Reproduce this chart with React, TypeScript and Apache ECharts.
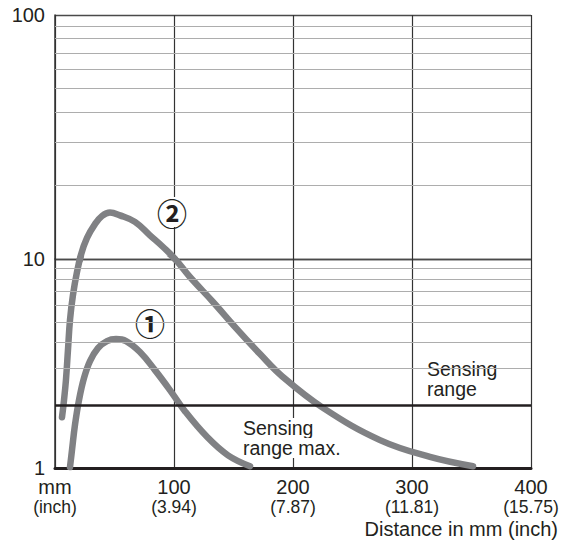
import React, { useEffect, useRef } from 'react';
import * as echarts from 'echarts';

// ---- data ----
const xTicks = [0, 100, 200, 300, 400];
const mmLabels = ['mm', '100', '200', '300', '400'];
const inchLabels = ['(inch)', '(3.94)', '(7.87)', '(11.81)', '(15.75)'];
const yTickLabels = ['1', '10', '100'];
const minorUpper = [20, 30, 40, 50, 60, 70, 80, 90];
const minorLower = [3, 4, 5, 6, 7, 8, 9];
const sensingLimit = 2;

const curve1X = [12.6, 14.3, 16.8, 20.2, 24.4, 29.4, 36.1, 43.7, 51.3, 59.7, 71.4, 84, 96.6, 109.2, 127.7, 145.4, 163.9];
const curve1Y = [1.01, 1.22, 1.61, 2.12, 2.7, 3.25, 3.75, 4.05, 4.14, 4.05, 3.59, 2.94, 2.36, 1.87, 1.41, 1.15, 1.02];

const curve2X = [5.9, 7.6, 9.2, 10.9, 12.6, 15.1, 18.5, 21.8, 26.9, 33.6, 39.5, 46.2, 54.6, 67.2, 79.8, 90.8, 100.8, 113.4, 132.8, 152.9, 172.3, 190.8, 225.2, 273.1, 315.1, 351.3];
const curve2Y = [1.75, 2.12, 2.64, 3.67, 5.11, 6.73, 8.67, 10.4, 12.2, 13.9, 15.0, 15.5, 15.1, 14.2, 12.5, 11.2, 10, 8.2, 6.23, 4.62, 3.51, 2.75, 1.94, 1.36, 1.13, 1.02];

const curveLabels = ['①', '②'];
const xAxisTitle = 'Distance in mm (inch)';
const sensingRangeLines = ['Sensing', 'range'];
const sensingMaxLines = ['Sensing', 'range max.'];

export default function App() {
  const ref = useRef<HTMLDivElement>(null);
  useEffect(() => {
    const chart = echarts.init(ref.current!, null, { renderer: 'svg' });
    const font = 'Liberation Sans';
    const textColor = '#231f20';
    const curveColor = '#808184';
    const pairs = (xs: number[], ys: number[]) => xs.map((x, i) => [x, ys[i]]);
    const c1 = pairs(curve1X, curve1Y);
    const c2 = pairs(curve2X, curve2Y);

    const xBase = (g: number) => ({
      type: 'value',
      gridIndex: g,
      min: 0,
      max: 400,
      interval: 100,
      axisTick: { show: false },
      splitLine: { show: true, lineStyle: { color: '#333333', width: 1.2 } },
    });

    const curveSeries = (g: number, data: number[][]) => ({
      type: 'line',
      xAxisIndex: g,
      yAxisIndex: g,
      data,
      smooth: 0.4,
      symbol: 'none',
      showSymbol: false,
      silent: true,
      z: 3,
      clip: true,
      lineStyle: { color: curveColor, width: 6.5, cap: 'round', join: 'round' },
    });

    const minorSeries = (g: number, vals: number[], extra: any[] = []) => ({
      type: 'line',
      xAxisIndex: g,
      yAxisIndex: g,
      data: [],
      silent: true,
      z: 1,
      markLine: {
        silent: true,
        symbol: 'none',
        label: { show: false },
        animation: false,
        lineStyle: { color: '#adadad', width: 1.2, type: 'solid' },
        data: vals.map((v) => ({ yAxis: v })).concat(extra),
      },
    });

    const text = (x: number, y: number, t: string, style: any) => ({
      type: 'text',
      x,
      y,
      z: 2,
      style: { text: t, fill: textColor, fontFamily: font, ...style },
    });

    const circled = {
      fontSize: 30,
      fontWeight: 'bold',
      fontFamily: 'Noto Sans CJK JP',
      align: 'center',
      verticalAlign: 'middle',
      textAlign: 'center',
      textVerticalAlign: 'middle',
      backgroundColor: '#fff',
      padding: [0, 1],
    };
    const label = {
      fontSize: 19.5,
      align: 'left',
      verticalAlign: 'middle',
      textAlign: 'left',
      textVerticalAlign: 'middle',
      backgroundColor: '#fff',
    };

    chart.setOption({
      animation: false,
      backgroundColor: '#ffffff',
      grid: [
        { left: 55, top: 15, width: 476, height: 244 },
        { left: 55, top: 259, width: 476, height: 209 },
      ],
      xAxis: [
        { ...xBase(0), axisLine: { show: false }, axisLabel: { show: false } },
        {
          ...xBase(1),
          axisLine: { show: true, lineStyle: { color: textColor, width: 3 } },
          axisLabel: {
            margin: 8,
            formatter: (v: number) => {
              const i = xTicks.indexOf(v);
              return `{a|${mmLabels[i]}}\n{b|${inchLabels[i]}}`;
            },
            rich: {
              a: { fontSize: 20, lineHeight: 22, fontFamily: font, color: textColor },
              b: { fontSize: 17.5, lineHeight: 18, fontFamily: font, color: textColor },
            },
          },
        },
      ],
      yAxis: [
        {
          type: 'log',
          logBase: 10,
          gridIndex: 0,
          min: 10,
          max: 100,
          axisLine: { show: true, lineStyle: { color: '#333', width: 1.5 } },
          axisTick: { show: false },
          splitLine: { show: true, lineStyle: { color: '#4a4a4a', width: 1.3 } },
          axisLabel: {
            fontSize: 20,
            margin: 10,
            color: textColor,
            fontFamily: font,
            formatter: (v: number) => (v >= 99 ? yTickLabels[2] : v >= 9.9 ? yTickLabels[1] : ''),
          },
        },
        {
          type: 'log',
          logBase: 10,
          gridIndex: 1,
          min: 1,
          max: 10,
          axisLine: { show: true, lineStyle: { color: '#333', width: 1.5 } },
          axisTick: { show: false },
          splitLine: { show: true, lineStyle: { color: '#4a4a4a', width: 1.3 } },
          axisLabel: {
            fontSize: 20,
            margin: 10,
            color: textColor,
            fontFamily: font,
            formatter: (v: number) => (v < 1.5 ? yTickLabels[0] : ''),
          },
        },
      ],
      series: [
        minorSeries(0, minorUpper),
        minorSeries(1, minorLower, [
          { yAxis: sensingLimit, lineStyle: { color: textColor, width: 2.6, type: 'solid' } },
        ]),
        curveSeries(0, c1),
        curveSeries(0, c2),
        curveSeries(1, c1),
        curveSeries(1, c2),
      ],
      graphic: [
        text(172, 212, curveLabels[1], circled),
        text(150, 322, curveLabels[0], circled),
        text(423, 369, sensingRangeLines[0], { ...label, padding: [0, 4, 0, 4] }),
        text(423, 389, sensingRangeLines[1], { ...label, padding: [0, 4, 0, 4] }),
        text(243, 428, sensingMaxLines[0], label),
        text(243, 448, sensingMaxLines[1], label),
        text(558, 529, xAxisTitle, {
          fontSize: 20,
          align: 'right',
          verticalAlign: 'middle',
          textAlign: 'right',
          textVerticalAlign: 'middle',
        }),
      ],
    });
    return () => chart.dispose();
  }, []);
  return (
    <div
      ref={ref}
      style={{ position: 'absolute', left: 0, top: 0, width: 562, height: 546 }}
    />
  );
}
